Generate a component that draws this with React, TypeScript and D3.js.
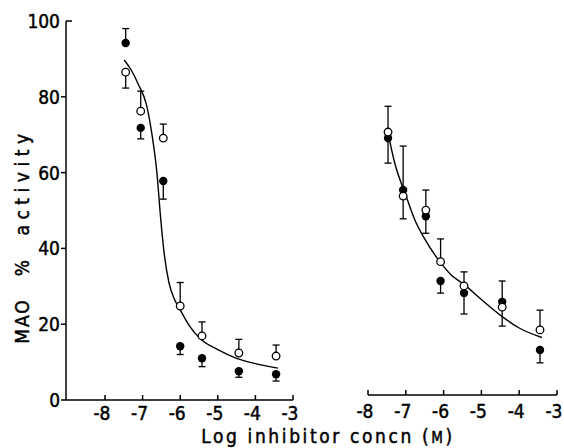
import React from 'react'
import * as d3 from 'd3'

const width = 564
const height = 448

// log molar concentrations of the inhibitor (both panels)
const leftX = [-7.45, -7.05, -6.45, -6.0, -5.42, -4.44, -3.45]
const leftOpen = [86.5, 76.2, 69.1, 24.8, 16.9, 12.4, 11.6]
const leftOpenErr = [82.3, 81.5, 72.8, 31, 20.6, 16, 14.5]
const leftFilled = [94.2, 71.8, 57.8, 14.2, 11, 7.6, 6.8]
const leftFilledErr = [98, 68.9, 53, 12, 8.8, 6, 5]

const rightX = [-7.47, -7.07, -6.47, -6.08, -5.46, -4.45, -3.45]
const rightOpen = [70.7, 53.8, 50.1, 36.5, 30.1, 24.5, 18.5]
const rightOpenErr = [77.5, 67, 55.4, 42.5, 33.8, 31.4, 23.7]
const rightFilled = [69.1, 55.4, 48.5, 31.4, 28.2, 25.9, 13.2]
const rightFilledErr = [62.5, 47.8, 44, 28.2, 22.7, 19.5, 9.8]

// fitted curves
const leftCurveX = [-7.49, -7.3, -7.1, -6.9, -6.75, -6.62, -6.52, -6.43, -6.3, -6.15, -6.0, -5.75, -5.45, -5.0, -4.5, -4.0, -3.4]
const leftCurveY = [89.7, 87, 83, 78, 70, 60, 48, 39, 31, 26.5, 23.8, 19.5, 16, 13.3, 11, 9.6, 8.4]
const rightCurveX = [-7.47, -7.3, -7.0, -6.76, -6.5, -6.1, -5.8, -5.46, -5.0, -4.45, -4.0, -3.4]
const rightCurveY = [70.5, 62.8, 54, 47.5, 42.5, 36.5, 33, 30.5, 26.5, 22, 19, 16.5]

const xTicks = [-8, -7, -6, -5, -4, -3]
const yTicks = [0, 20, 40, 60, 80, 100]

const font = '"DejaVu Sans Condensed", "DejaVu Sans"'
const heavy = { stroke: '#000', strokeWidth: 0.45 }

const y = d3.scaleLinear().domain([0, 100]).range([400, 21])
const xLeft = d3.scaleLinear().domain([-8, -3]).range([105, 293])
const xRight = d3.scaleLinear().domain([-8, -3]).range([368, 557])

type PanelProps = {
  x: d3.ScaleLinear<number, number>
  xs: number[]
  open: number[]
  openErr: number[]
  filled: number[]
  filledErr: number[]
  cx: number[]
  cy: number[]
  axisY: number
  axisStart: number
  labelY: number
}

const Panel = ({ x, xs, open, openErr, filled, filledErr, cx, cy, axisY, axisStart, labelY }: PanelProps) => {
  const line = d3.line<number>()
    .x((_, i) => x(cx[i]))
    .y(d => y(d))
    .curve(d3.curveMonotoneX)

  const errBar = (xv: number, v: number, e: number, key: string) => (
    <g key={key} stroke="#000" strokeWidth={1.3}>
      <line x1={x(xv)} x2={x(xv)} y1={y(v)} y2={y(e)} />
      <line x1={x(xv) - 3.5} x2={x(xv) + 3.5} y1={y(e)} y2={y(e)} />
    </g>
  )

  return (
    <g>
      <line x1={axisStart} x2={x(-3)} y1={axisY} y2={axisY} stroke="#000" strokeWidth={1.5} />
      {xTicks.map(t => (
        <g key={t}>
          <line x1={x(t)} x2={x(t)} y1={axisY} y2={axisY - 5} stroke="#000" strokeWidth={1.5} />
          {/* digit centred on the tick, short minus in front */}
          <text x={x(t) + 5.5} y={labelY} textAnchor="end" fontFamily={font} fontSize={19} {...heavy}>
            {'-' + Math.abs(t)}
          </text>
        </g>
      ))}
      <path d={line(cy) || ''} fill="none" stroke="#000" strokeWidth={1.4} />
      {xs.map((xv, i) => errBar(xv, open[i], openErr[i], 'oe' + i))}
      {xs.map((xv, i) => errBar(xv, filled[i], filledErr[i], 'fe' + i))}
      {xs.map((xv, i) => (
        <circle key={'f' + i} cx={x(xv)} cy={y(filled[i])} r={4.2} fill="#000" />
      ))}
      {xs.map((xv, i) => (
        <circle key={'o' + i} cx={x(xv)} cy={y(open[i])} r={3.8} fill="#fff" stroke="#000" strokeWidth={1.3} />
      ))}
    </g>
  )
}

const App = () => {
  return (
    <svg width={width} height={height} style={{ position: 'absolute', left: 0, top: 0, background: '#fff' }}>
      <rect width={width} height={height} fill="#fff" />
      {/* y axis */}
      <line x1={66} x2={66} y1={y(100)} y2={y(0)} stroke="#000" strokeWidth={1.5} />
      {yTicks.map(t => (
        <g key={t}>
          <line x1={t === 100 ? 66 : 61} x2={t === 100 ? 72 : 66} y1={y(t)} y2={y(t)} stroke="#000" strokeWidth={1.5} />
          <text x={60} y={y(t) + 7} textAnchor="end" fontFamily={font} fontSize={19} {...heavy}>{t}</text>
        </g>
      ))}
      <g transform="translate(29,0) rotate(-90)" fontFamily={font} fontSize={19} {...heavy}>
        <text x={-321} y={0} textAnchor="middle" letterSpacing={2}>MAO</text>
        <text x={-268} y={0} textAnchor="middle">%</text>
        <text x={-182} y={0} textAnchor="middle" letterSpacing={5.5}>activity</text>
      </g>

      <Panel x={xLeft} xs={leftX} open={leftOpen} openErr={leftOpenErr} filled={leftFilled} filledErr={leftFilledErr}
        cx={leftCurveX} cy={leftCurveY} axisY={400} axisStart={66} labelY={420} />
      <Panel x={xRight} xs={rightX} open={rightOpen} openErr={rightOpenErr} filled={rightFilled} filledErr={rightFilledErr}
        cx={rightCurveX} cy={rightCurveY} axisY={395} axisStart={368} labelY={418} />

      <text x={328} y={443} textAnchor="middle" fontFamily={font} fontSize={19} letterSpacing={2.6} {...heavy}>
        Log inhibitor concn (<tspan fontSize={15}>M</tspan>)
      </text>
    </svg>
  )
}

export default App
